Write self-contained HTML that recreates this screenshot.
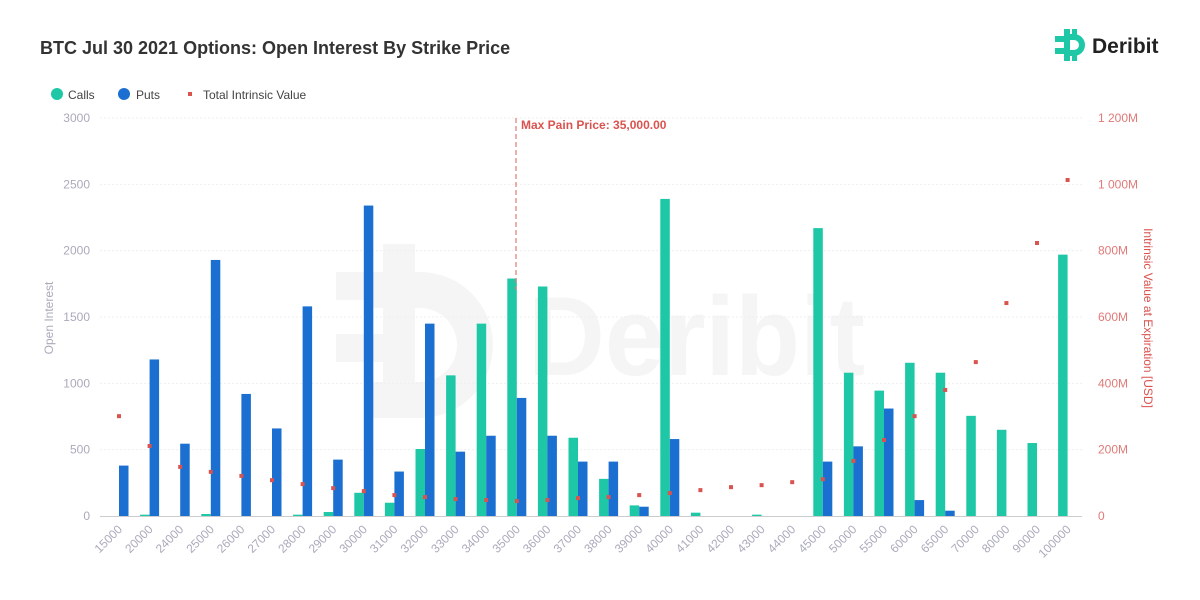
<!DOCTYPE html>
<html><head><meta charset="utf-8"><style>
html,body{margin:0;padding:0;background:#fff;}
svg{display:block;font-family:"Liberation Sans",sans-serif;}
</style></head><body>
<svg width="1200" height="600" viewBox="0 0 1200 600" xmlns="http://www.w3.org/2000/svg">
<rect width="1200" height="600" fill="#fff"/>
<!-- watermark -->
<g fill="#f5f5f5">
<rect x="336" y="272" width="60" height="28"/>
<rect x="336" y="334" width="60" height="28"/>
<rect x="383" y="244" width="32" height="174"/>
<path d="M370 272 H420 A72 72 0 0 1 420 418 H370 V382 H420 A36 36 0 0 0 420 308 H370 Z"/>
<text x="528" y="375" font-size="112" font-weight="bold" textLength="337" lengthAdjust="spacingAndGlyphs">Deribit</text>
</g>
<text x="40" y="54" font-size="18" font-weight="bold" fill="#333">BTC Jul 30 2021 Options: Open Interest By Strike Price</text>
<!-- logo -->
<g fill="#1ec8a6">
<rect x="1055" y="36" width="12" height="6"/><rect x="1055" y="48" width="12" height="6"/>
<rect x="1064" y="29" width="6" height="32"/><rect x="1072" y="29" width="5" height="6"/><rect x="1072" y="55" width="5" height="6"/>
<path d="M1066 34 H1074 A11 11 0 0 1 1074 56 H1066 V50 H1074 A5 5 0 0 0 1074 40 H1066 Z"/>
</g>
<text x="1092" y="53" font-size="21" font-weight="bold" fill="#222">Deribit</text>
<!-- legend -->
<circle cx="57" cy="94" r="6" fill="#1ec8a6"/><text x="68" y="99" font-size="12" fill="#444">Calls</text>
<circle cx="124" cy="94" r="6" fill="#1b6fd0"/><text x="136" y="99" font-size="12" fill="#444">Puts</text>
<rect x="188" y="92" width="4" height="4" fill="#d9534f"/><text x="203" y="99" font-size="12" fill="#444">Total Intrinsic Value</text>
<g id="grid" stroke="#efefef" stroke-dasharray="2,2"></g>
<g id="bars"></g>
<line x1="100" y1="516.5" x2="1082" y2="516.5" stroke="#ccc"/>
<line x1="516" y1="118" x2="516" y2="290" stroke="#e07a78" stroke-dasharray="5,3" stroke-width="1.2"/>
<text x="521" y="129" font-size="12" font-weight="bold" fill="#d9534f">Max Pain Price: 35,000.00</text>
<g id="lab" font-size="12"></g>
<text transform="translate(53,318) rotate(-90)" text-anchor="middle" font-size="12" fill="#aab">Open Interest</text>
<text transform="translate(1144,318) rotate(90)" text-anchor="middle" font-size="12" fill="#d9534f">Intrinsic Value at Expiration [USD]</text>
<script>
var ns="http://www.w3.org/2000/svg";
function el(p,t,a,txt){var e=document.createElementNS(ns,t);for(var k in a)e.setAttribute(k,a[k]);if(txt!=null)e.textContent=txt;document.getElementById(p).appendChild(e);}
var rl=["0","200M","400M","600M","800M","1 000M","1 200M"];
for(var i=0;i<=6;i++){var y=516-i*66.33;
 if(i>0)el("grid","line",{x1:100,x2:1082,y1:y,y2:y});
 el("lab","text",{x:90,y:y+4,"text-anchor":"end",fill:"#aab"},String(i*500));
 el("lab","text",{x:1098,y:y+4,fill:"#e07a78"},rl[i]);}
var d=[[15000,0,380,301],[20000,10,1180,211],[24000,0,545,148],[25000,15,1930,133],[26000,0,920,121],[27000,0,660,108],[28000,10,1580,96],[29000,30,425,84],[30000,175,2340,75],[31000,100,335,63],[32000,505,1450,57],[33000,1060,485,51],[34000,1450,605,48],[35000,1790,890,45],[36000,1730,605,48],[37000,590,410,54],[38000,280,410,57],[39000,80,70,63],[40000,2390,580,69],[41000,25,0,78],[42000,0,0,87],[43000,10,0,93],[44000,0,0,102],[45000,2170,410,111],[50000,1080,525,166],[55000,945,810,229],[60000,1155,120,301],[65000,1080,40,380],[70000,755,0,464],[80000,650,0,642],[90000,550,0,823],[100000,1970,0,1013]];
var s=0.13267;
d.forEach(function(r,i){var c=119+30.6*i;
 if(r[1]>0)el("bars","rect",{x:c-9.5,y:516-r[1]*s,width:9.5,height:r[1]*s,fill:"#1ec8a6"});
 if(r[2]>0)el("bars","rect",{x:c,y:516-r[2]*s,width:9.5,height:r[2]*s,fill:"#1b6fd0"});
 el("bars","rect",{x:c-2,y:516-r[3]*0.3317-2,width:4,height:4,fill:"#d9534f"});
 el("lab","text",{x:c+4,y:530,"text-anchor":"end",fill:"#aab",transform:"rotate(-45 "+(c+4)+" 530)"},String(r[0]));
});
</script>
</svg>
</body></html>
